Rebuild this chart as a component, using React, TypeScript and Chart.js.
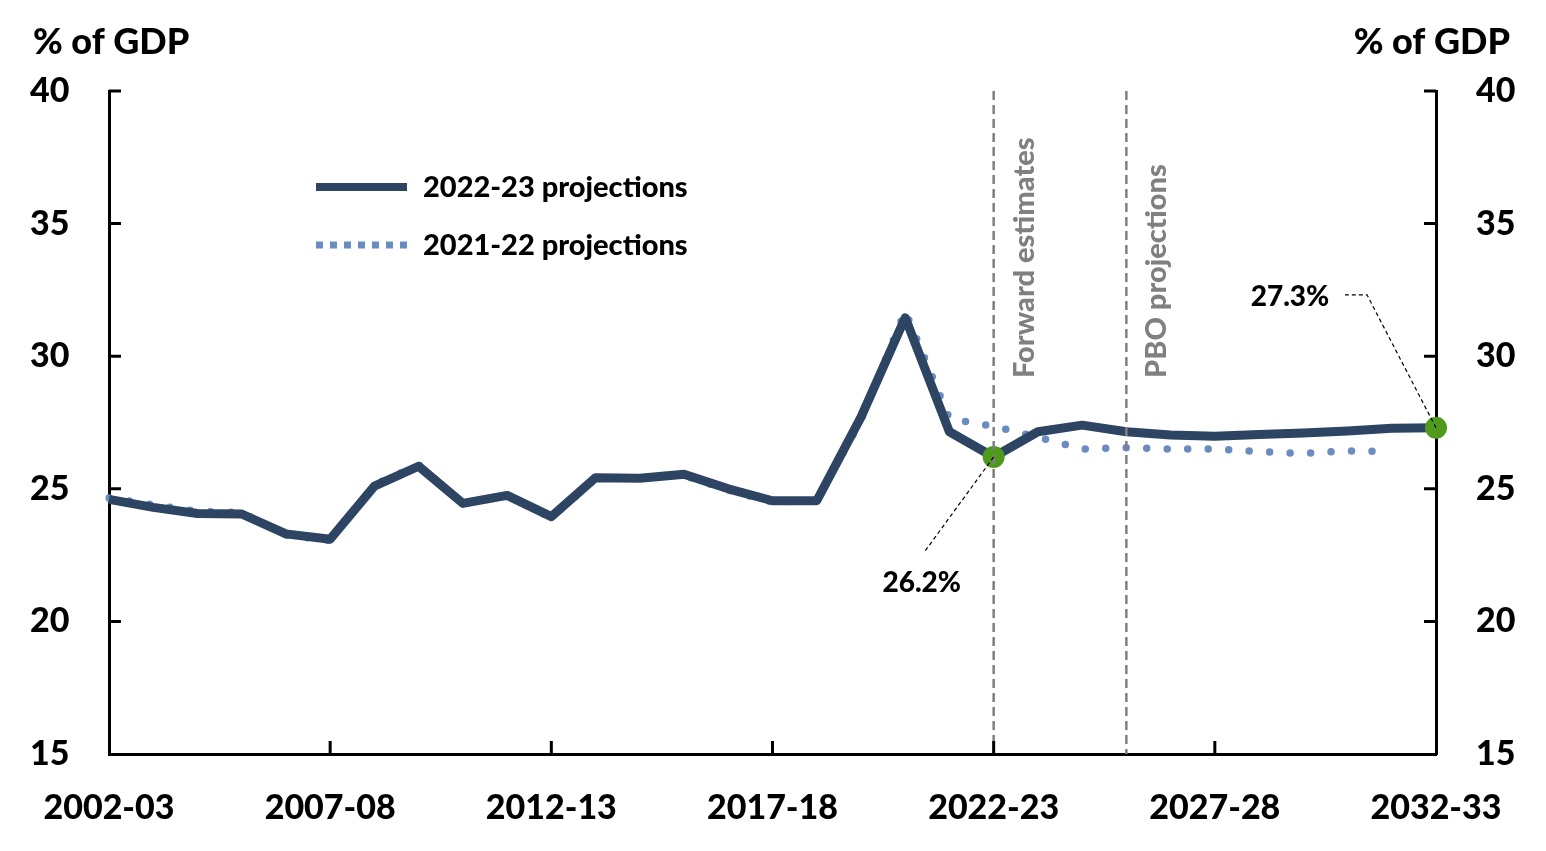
import {useEffect, useRef} from "react";
import {Chart, registerables} from "chart.js";

Chart.register(...registerables);

const FONT = "Lato, 'Noto Sans', sans-serif";

const years = [
  "2002-03", "2003-04", "2004-05", "2005-06", "2006-07", "2007-08", "2008-09", "2009-10",
  "2010-11", "2011-12", "2012-13", "2013-14", "2014-15", "2015-16", "2016-17", "2017-18",
  "2018-19", "2019-20", "2020-21", "2021-22", "2022-23", "2023-24", "2024-25", "2025-26",
  "2026-27", "2027-28", "2028-29", "2029-30", "2030-31", "2031-32", "2032-33",
];

// % of GDP, 2022-23 projections (actuals to 2021-22)
const projections2022 = [
  24.6, 24.3, 24.07, 24.05, 23.3, 23.1, 25.1, 25.85, 24.45, 24.75, 23.95,
  25.42, 25.4, 25.55, 25.0, 24.55, 24.55, 27.7, 31.45, 27.15, 26.2,
  27.15, 27.4, 27.15, 27.03, 26.98, 27.05, 27.1, 27.18, 27.28, 27.3,
];

// % of GDP, 2021-22 projections
const projections2021 = [
  24.65, 24.4, 24.15, 24.1, 23.25, 23.05, 25.15, 25.9, 24.45, 24.75, 23.9,
  25.4, 25.4, 25.5, 24.95, 24.5, 24.55, 27.6, 31.7, 27.65, 27.35,
  26.95, 26.5, 26.55, 26.5, 26.5, 26.4, 26.33, 26.43, 26.4,
];

const yMin = 15;
const yMax = 40;
const yStep = 5;
const xTickEvery = 5;

const highlighted = [20, 30];
const phaseLines = [
  {index: 20, label: "Forward estimates"},
  {index: 23, label: "PBO projections"},
];

const NAVY = "#2E4463";
const BLUE = "#6B8CBF";
const GREEN = "#4F9A1B";
const GREY = "#808080";
const WEIGHT = "900";

const overlayPlugin = {
  id: "overlay",
  afterDatasetsDraw(chart: any) {
    const {ctx, chartArea, scales} = chart;
    const x = scales.x;
    const y = scales.y;
    ctx.save();

    // phase divider lines + rotated labels
    phaseLines.forEach(p => {
      const px = x.getPixelForValue(p.index);
      ctx.strokeStyle = GREY;
      ctx.lineWidth = 2.5;
      ctx.setLineDash([9, 5]);
      ctx.beginPath();
      ctx.moveTo(px, chartArea.top);
      ctx.lineTo(px, chartArea.bottom);
      ctx.stroke();

      ctx.save();
      ctx.translate(px + 40, 378);
      ctx.rotate(-Math.PI / 2);
      ctx.fillStyle = GREY;
      ctx.font = `${WEIGHT} 29px ${FONT}`;
      ctx.textAlign = "left";
      ctx.textBaseline = "alphabetic";
      ctx.fillText(p.label, 0, 0);
      ctx.restore();
    });

    // value callouts with leader lines
    ctx.setLineDash([4, 3]);
    ctx.lineWidth = 1.2;
    ctx.strokeStyle = "#000";
    ctx.fillStyle = "#000";
    ctx.font = `${WEIGHT} 28px ${FONT}`;
    ctx.textAlign = "center";
    ctx.textBaseline = "middle";

    const p1x = x.getPixelForValue(highlighted[0]);
    const p1y = y.getPixelForValue(projections2022[highlighted[0]]);
    ctx.beginPath();
    ctx.moveTo(p1x, p1y);
    ctx.lineTo(p1x - 70, p1y + 96);
    ctx.stroke();
    ctx.fillText(`${projections2022[highlighted[0]].toFixed(1)}%`, p1x - 72, p1y + 126);

    const p2x = x.getPixelForValue(highlighted[1]);
    const p2y = y.getPixelForValue(projections2022[highlighted[1]]);
    ctx.beginPath();
    ctx.moveTo(p2x, p2y);
    ctx.lineTo(p2x - 69, p2y - 133);
    ctx.lineTo(p2x - 91, p2y - 133);
    ctx.stroke();
    ctx.fillText(`${projections2022[highlighted[1]].toFixed(1)}%`, p2x - 146, p2y - 131);

    ctx.restore();
  },
  afterDraw(chart: any) {
    const {ctx, chartArea, scales} = chart;
    const x = scales.x;
    const y = scales.y;
    ctx.save();

    // inward tick marks
    ctx.strokeStyle = "#000";
    ctx.lineWidth = 3;
    ctx.beginPath();
    for (let i = xTickEvery; i < years.length - 1; i += xTickEvery) {
      const px = x.getPixelForValue(i);
      ctx.moveTo(px, chartArea.bottom);
      ctx.lineTo(px, chartArea.bottom - 13);
    }
    for (let v = yMin + yStep; v <= yMax; v += yStep) {
      const py = y.getPixelForValue(v);
      ctx.moveTo(chartArea.left, py);
      ctx.lineTo(chartArea.left + 12, py);
      ctx.moveTo(chartArea.right, py);
      ctx.lineTo(chartArea.right - 12, py);
    }
    ctx.stroke();

    // axis titles
    ctx.fillStyle = "#000";
    ctx.font = `${WEIGHT} 36px ${FONT}`;
    ctx.textBaseline = "alphabetic";
    ctx.textAlign = "left";
    ctx.fillText("% of GDP", 33, 54);
    ctx.textAlign = "right";
    ctx.fillText("% of GDP", 1510, 54);

    // legend
    ctx.lineWidth = 8;
    ctx.strokeStyle = NAVY;
    ctx.beginPath();
    ctx.moveTo(316, 187);
    ctx.lineTo(407, 187);
    ctx.stroke();
    ctx.lineWidth = 7;
    ctx.strokeStyle = BLUE;
    ctx.setLineDash([7, 7]);
    ctx.beginPath();
    ctx.moveTo(316, 245);
    ctx.lineTo(409, 245);
    ctx.stroke();
    ctx.setLineDash([]);
    ctx.font = `${WEIGHT} 29px ${FONT}`;
    ctx.textAlign = "left";
    ctx.textBaseline = "middle";
    ctx.fillText("2022-23 projections", 423, 188);
    ctx.fillText("2021-22 projections", 423, 246);

    ctx.restore();
  },
};

export default function App() {
  const chartRef = useRef<HTMLCanvasElement>(null);
  const chartInstance = useRef<Chart | null>(null);

  useEffect(() => {
    document.body.style.margin = "0";
    if (!chartRef.current) return;
    if (chartInstance.current) chartInstance.current.destroy();

    const tickFont = {family: FONT, size: 34, weight: WEIGHT as any};

    chartInstance.current = new Chart(chartRef.current, {
      type: "line",
      data: {
        labels: years,
        datasets: [
          {
            label: "2022-23 projections",
            data: projections2022,
            borderColor: NAVY,
            borderWidth: 9,
            borderJoinStyle: "round",
            tension: 0,
            pointRadius: ctx => (highlighted.includes(ctx.dataIndex) ? 11 : 0),
            pointBackgroundColor: GREEN,
            pointBorderWidth: 0,
            pointHoverRadius: 0,
            clip: false,
          },
          {
            label: "2021-22 projections",
            data: projections2021,
            borderColor: BLUE,
            borderWidth: 7.5,
            borderDash: [0, 20.5],
            borderCapStyle: "round",
            tension: 0,
            pointRadius: 0,
            pointHoverRadius: 0,
          },
        ],
      },
      options: {
        animation: false,
        responsive: true,
        maintainAspectRatio: false,
        events: [],
        layout: {padding: {top: 91, left: 30, right: 0, bottom: 0}},
        plugins: {
          legend: {display: false},
          tooltip: {enabled: false},
        },
        scales: {
          x: {
            grid: {display: false, drawTicks: false},
            border: {display: true, color: "#000", width: 3},
            ticks: {
              autoSkip: false,
              maxRotation: 0,
              padding: 34,
              color: "#000",
              font: tickFont,
              callback: (_v, i) => (i % xTickEvery === 0 ? years[i] : ""),
            },
            afterFit: scale => {
              scale.height = 97;
            },
          },
          y: {
            position: "left",
            min: yMin,
            max: yMax,
            grid: {display: false, drawTicks: false},
            border: {display: true, color: "#000", width: 3},
            ticks: {stepSize: yStep, crossAlign: "far", color: "#000", font: tickFont},
            afterFit: scale => {
              scale.width = 79;
            },
          },
          y2: {
            position: "right",
            min: yMin,
            max: yMax,
            grid: {display: false, drawTicks: false},
            border: {display: true, color: "#000", width: 3},
            ticks: {stepSize: yStep, padding: 40, color: "#000", font: tickFont},
            afterFit: scale => {
              scale.width = 110;
            },
          },
        },
      },
      plugins: [overlayPlugin],
    });

    return () => {
      if (chartInstance.current) {
        chartInstance.current.destroy();
        chartInstance.current = null;
      }
    };
  }, []);

  return (
    <div style={{width: 1546, height: 851, position: "relative", background: "#fff"}}>
      <canvas ref={chartRef} />
    </div>
  );
}
